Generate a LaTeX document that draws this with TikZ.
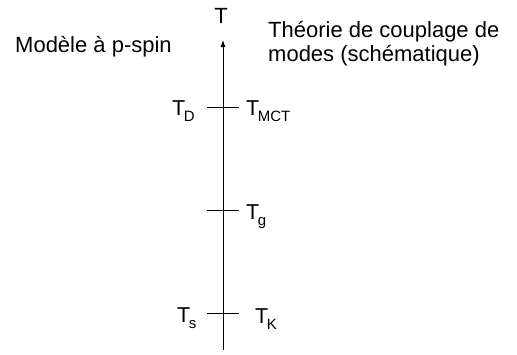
\documentclass[tikz,border=0pt]{standalone}
\usepackage{fontspec}
\setmainfont{Liberation Sans}
\usetikzlibrary{arrows.meta}
\newcommand{\subsc}[1]{\kern-1.5pt\raisebox{-6pt}{\fontsize{15}{15}\selectfont #1}}
\begin{document}
\begin{tikzpicture}[x=1pt,y=-1pt,
  lbl/.style={inner sep=0pt,anchor=base west,font=\fontsize{22}{24}\selectfont},
  tlbl/.style={inner sep=0pt,anchor=base west,font=\fontsize{21.5}{24}\selectfont},
  axisline/.style={line width=0.9pt},
  tickline/.style={line width=0.8pt}]
\useasboundingbox (0,0) rectangle (517,354);
\coordinate (bot) at (223,350);
\coordinate (top) at (223,40);
\draw[axisline,-{Latex[length=7pt,width=5pt]}] (bot) -- (top);
\node[lbl,anchor=base] (T) at (221,23) {T};
\node[lbl] (pspin) at (15,52) {Modèle à p-spin};
\node[lbl] (mct1) at (268,37) {Théorie de couplage de};
\node[lbl] (mct2) at (268,61) {modes (schématique)};
% ticks
\coordinate (d1) at (207,107); \coordinate (d2) at (239,107);
\coordinate (g1) at (207,210); \coordinate (g2) at (239,210);
\coordinate (s1) at (207,313); \coordinate (s2) at (239,313);
\draw[tickline] (d1) -- (d2);
\draw[tickline] (g1) -- (g2);
\draw[tickline] (s1) -- (s2);
\node[tlbl] (TD) at (172,115) {T\subsc{D}};
\node[tlbl] (TMCT) at (246,115) {T\subsc{MCT}};
\node[tlbl] (Tg) at (246,219) {T\subsc{g}};
\node[tlbl] (Ts) at (177,322) {T\subsc{s}};
\node[tlbl] (TK) at (255,323) {T\subsc{K}};
\end{tikzpicture}
\end{document}
